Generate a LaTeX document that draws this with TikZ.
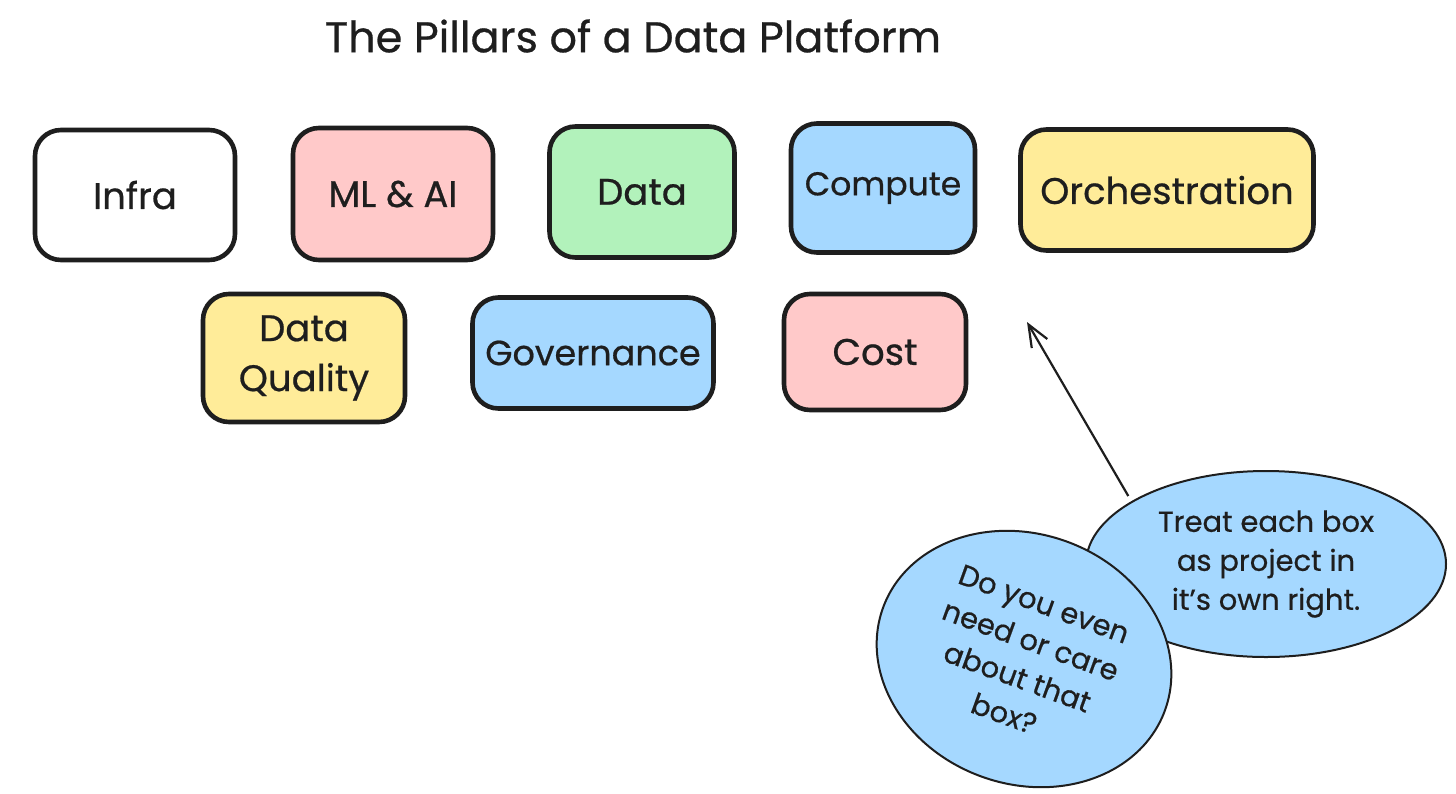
\documentclass[tikz,border=0pt]{standalone}
\usepackage{fontspec}
\setmainfont{Poppins}[FakeBold=0.6]
\usetikzlibrary{shapes.geometric,arrows.meta}
\definecolor{ink}{HTML}{1E1E1E}
\definecolor{cpink}{HTML}{FFC9C9}
\definecolor{cgreen}{HTML}{B2F2BB}
\definecolor{cblue}{HTML}{A5D8FF}
\definecolor{cyellow}{HTML}{FFEC99}
\tikzset{
  pillar/.style={draw=ink, line width=4.6pt, rounded corners=26pt, inner sep=0pt,
    align=center, text=ink, font=\fontsize{37}{50}\selectfont},
  balloon/.style={ellipse, draw=ink, fill=cblue, line width=2pt, inner sep=0pt,
    align=center, text=ink, font=\fontsize{29}{39}\selectfont},
  titletext/.style={text=ink, font=\fontsize{43}{48}\selectfont},
  pointer/.style={draw=ink, line width=2.2pt, -{Straight Barb[length=22pt,width=18pt]}}
}
\begin{document}
\begin{tikzpicture}[x=1pt,y=-1pt]
\useasboundingbox[fill=white] (0,0) rectangle (1456,793);
\node[titletext] (title) at (633,36) {The Pillars of a Data Platform};
% row 1
\node[pillar, fill=white, minimum width=200pt, minimum height=130pt] (infra) at (135,195) {Infra};
\node[pillar, fill=cpink, minimum width=200pt, minimum height=132pt] (mlai) at (393,194) {ML \& AI};
\node[pillar, fill=cgreen, minimum width=185pt, minimum height=131pt] (data) at (642,192) {Data};
\node[pillar, fill=cblue, minimum width=184pt, minimum height=129pt, font=\fontsize{33}{40}\selectfont] (compute) at (883,188) {Compute};
\node[pillar, fill=cyellow, minimum width=293pt, minimum height=121pt] (orch) at (1167,190) {Orchestration};
% row 2
\node[pillar, fill=cyellow, minimum width=202pt, minimum height=128pt] (dq) at (304,358) {Data\\Quality};
\node[pillar, fill=cblue, minimum width=241pt, minimum height=111pt, font=\fontsize{35}{40}\selectfont] (gov) at (593,353) {Governance};
\node[pillar, fill=cpink, minimum width=182pt, minimum height=116pt] (cost) at (875,352) {Cost};
% balloons
\node[balloon, minimum width=360pt, minimum height=186pt] (treat) at (1266,564)
  {Treat each box\\as project in\\it's own right.};
\node[balloon, minimum width=300pt, minimum height=250pt, rotate=-20] (need) at (1024,659)
  {Do you even\\need or care\\about that\\box?};
% arrow
\coordinate (tip) at (1027,322);
\draw[pointer, shorten <=6pt] (treat.155) -- (tip);
\end{tikzpicture}
\end{document}
